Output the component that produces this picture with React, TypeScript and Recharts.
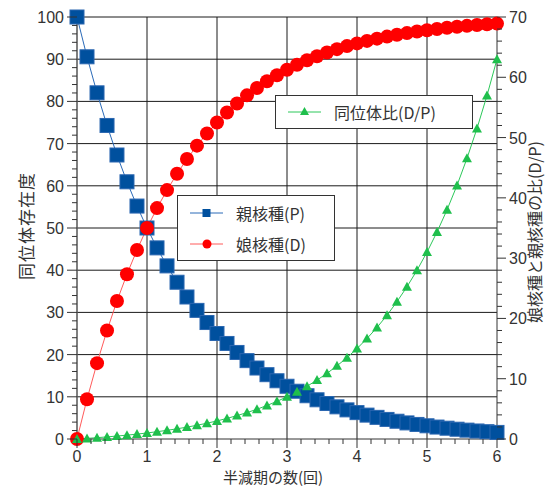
import { LineChart, Line, XAxis, YAxis, CartesianGrid } from "recharts";

// half-lives elapsed (steps of 1/7)
const halfLives = [
  0, 0.143, 0.286, 0.429, 0.571, 0.714, 0.857, 1, 1.143, 1.286, 1.429, 1.571, 1.714, 1.857,
  2, 2.143, 2.286, 2.429, 2.571, 2.714, 2.857, 3, 3.143, 3.286, 3.429, 3.571, 3.714, 3.857,
  4, 4.143, 4.286, 4.429, 4.571, 4.714, 4.857, 5, 5.143, 5.286, 5.429, 5.571, 5.714, 5.857, 6,
];

// parent nuclide abundance (%)
const parent = [
  100, 90.57, 82.03, 74.3, 67.3, 60.95, 55.2, 50, 45.29, 41.02, 37.15, 33.65, 30.48, 27.6,
  25, 22.64, 20.51, 18.57, 16.82, 15.24, 13.8, 12.5, 11.32, 10.25, 9.29, 8.41, 7.62, 6.9,
  6.25, 5.66, 5.13, 4.64, 4.21, 3.81, 3.45, 3.13, 2.83, 2.56, 2.32, 2.1, 1.9, 1.73, 1.56,
];

// daughter nuclide abundance (%)
const daughter = [
  0, 9.43, 17.97, 25.7, 32.7, 39.05, 44.8, 50, 54.71, 58.98, 62.85, 66.35, 69.52, 72.4,
  75, 77.36, 79.49, 81.43, 83.18, 84.76, 86.2, 87.5, 88.68, 89.75, 90.71, 91.59, 92.38, 93.1,
  93.75, 94.34, 94.87, 95.36, 95.79, 96.19, 96.55, 96.87, 97.17, 97.44, 97.68, 97.9, 98.1, 98.27, 98.44,
];

// daughter / parent ratio
const ratio = [
  0, 0.1, 0.22, 0.35, 0.49, 0.64, 0.81, 1, 1.21, 1.44, 1.69, 1.97, 2.28, 2.62,
  3, 3.42, 3.88, 4.38, 4.94, 5.56, 6.25, 7, 7.83, 8.75, 9.77, 10.89, 12.13, 13.49,
  15, 16.67, 18.5, 20.53, 22.78, 25.25, 27.98, 31, 34.33, 38.01, 42.07, 46.55, 51.5, 56.97, 63,
];

const xTicks = [
  0, 0.2, 0.4, 0.6, 0.8, 1, 1.2, 1.4, 1.6, 1.8, 2, 2.2, 2.4, 2.6, 2.8, 3, 3.2, 3.4, 3.6, 3.8,
  4, 4.2, 4.4, 4.6, 4.8, 5, 5.2, 5.4, 5.6, 5.8, 6,
];
const xGrid = [1, 2, 3, 4, 5];
const leftTicks = [
  0, 2, 4, 6, 8, 10, 12, 14, 16, 18, 20, 22, 24, 26, 28, 30, 32, 34, 36, 38, 40, 42, 44, 46, 48,
  50, 52, 54, 56, 58, 60, 62, 64, 66, 68, 70, 72, 74, 76, 78, 80, 82, 84, 86, 88, 90, 92, 94, 96, 98, 100,
];
const leftGrid = [10, 20, 30, 40, 50, 60, 70, 80, 90, 100];
const rightTicks = [
  0, 2, 4, 6, 8, 10, 12, 14, 16, 18, 20, 22, 24, 26, 28, 30, 32, 34, 36, 38, 40, 42, 44, 46, 48,
  50, 52, 54, 56, 58, 60, 62, 64, 66, 68, 70,
];

const data = halfLives.map((x, i) => ({ x, p: parent[i], d: daughter[i], r: ratio[i] }));

const BLUE = "#00509e";
const RED = "#ff0000";
const GREEN = "#1fbf4c";
const AXIS = "#333";
const NUM_FONT = "'Liberation Sans', Arial, sans-serif";
const JP_FONT = "'Noto Sans CJK JP', sans-serif";

const isMajor = (v: number) => v % 10 === 0;

function XTick(props: any) {
  const { x, y, payload } = props;
  const major = Number.isInteger(payload.value);
  return (
    <g>
      <line x1={x} x2={x} y1={y} y2={y + (major ? 9 : 5)} stroke={AXIS} />
      {major && (
        <text x={x} y={y + 23} textAnchor="middle" fontSize={16} fontFamily={NUM_FONT} fill="#333">
          {payload.value}
        </text>
      )}
    </g>
  );
}

function LeftTick(props: any) {
  const { x, y, payload } = props;
  const major = isMajor(payload.value);
  return (
    <g>
      <line x1={x - (major ? 10 : 5)} x2={x} y1={y} y2={y} stroke={AXIS} />
      {major && (
        <text x={x - 13} y={y + 6} textAnchor="end" fontSize={16} fontFamily={NUM_FONT} fill="#333">
          {payload.value}
        </text>
      )}
    </g>
  );
}

function RightTick(props: any) {
  const { x, y, payload } = props;
  const major = isMajor(payload.value);
  return (
    <g>
      <line x1={x} x2={x + (major ? 9 : 5)} y1={y} y2={y} stroke={AXIS} />
      {major && (
        <text x={x + 12} y={y + 6} textAnchor="start" fontSize={16} fontFamily={NUM_FONT} fill="#333">
          {payload.value}
        </text>
      )}
    </g>
  );
}

function SquareDot(props: any) {
  const { cx, cy, index } = props;
  return <rect key={`s${index}`} x={cx - 7} y={cy - 7} width={14} height={14} fill={BLUE} stroke="#2a66b0" strokeWidth={1} />;
}

function TriDot(props: any) {
  const { cx, cy, index } = props;
  return (
    <path
      key={`t${index}`}
      d={`M${cx},${cy - 5} L${cx + 5},${cy + 4} L${cx - 5},${cy + 4} Z`}
      fill={GREEN}
    />
  );
}

const legendBox: React.CSSProperties = {
  position: "absolute",
  background: "#fff",
  border: "1px solid #333",
  boxSizing: "border-box",
  fontFamily: JP_FONT,
  fontSize: 16,
  color: "#333",
};

function LegendRow({ top, marker, color, label }: { top: number; marker: string; color: string; label: string }) {
  return (
    <div style={{ position: "absolute", left: 0, top, height: 24, display: "flex", alignItems: "center" }}>
      <svg width={56} height={24}>
        <line x1={12} x2={45} y1={12} y2={12} stroke={color} />
        {marker === "square" && <rect x={24.5} y={8} width={8} height={8} fill={BLUE} />}
        {marker === "circle" && <circle cx={29} cy={12} r={4.5} fill={RED} />}
        {marker === "tri" && <path d="M28.5,7 L33,15 L24,15 Z" fill={GREEN} />}
      </svg>
      <span style={{ marginLeft: 2, whiteSpace: "nowrap" }}>{label}</span>
    </div>
  );
}

export default function App() {
  return (
    <div style={{ position: "absolute", left: 0, top: 0, width: 546, height: 488, background: "#fff" }}>
      <LineChart width={546} height={488} data={data} margin={{ top: 17, right: 0, bottom: 0, left: 0 }}>
        <CartesianGrid
          xAxisId="x"
          yAxisId="left"
          horizontalValues={leftGrid}
          verticalValues={xGrid}
          stroke="#1a1a1a"
          fill="none"
        />
        <XAxis
          xAxisId="x"
          dataKey="x"
          type="number"
          domain={[0, 6]}
          ticks={xTicks}
          interval={0}
          height={49}
          tickSize={0}
          tickMargin={0}
          tickLine={false}
          tick={<XTick />}
          axisLine={{ stroke: AXIS }}
        />
        <YAxis
          yAxisId="left"
          orientation="left"
          type="number"
          domain={[0, 100]}
          ticks={leftTicks}
          interval={0}
          width={77}
          tickSize={0}
          tickMargin={0}
          tickLine={false}
          tick={<LeftTick />}
          axisLine={{ stroke: "#555", strokeWidth: 1.5 }}
        />
        <YAxis
          yAxisId="right"
          orientation="right"
          type="number"
          domain={[0, 70]}
          ticks={rightTicks}
          interval={0}
          width={49}
          tickSize={0}
          tickMargin={0}
          tickLine={false}
          tick={<RightTick />}
          axisLine={{ stroke: AXIS }}
        />
        <Line
          xAxisId="x"
          yAxisId="left"
          dataKey="p"
          stroke="#2a6ab8"
          strokeWidth={1}
          dot={<SquareDot />}
          isAnimationActive={false}
        />
        <Line
          xAxisId="x"
          yAxisId="left"
          dataKey="d"
          stroke="#ff5a5a"
          strokeWidth={1}
          dot={{ r: 7, fill: RED, stroke: "none" }}
          isAnimationActive={false}
        />
        <Line
          xAxisId="x"
          yAxisId="right"
          dataKey="r"
          stroke="#2cc85a"
          strokeWidth={1}
          dot={<TriDot />}
          isAnimationActive={false}
        />
      </LineChart>

      <div style={{ ...legendBox, left: 177, top: 195, width: 158, height: 66 }}>
        <LegendRow top={5} marker="square" color="#2a6ab8" label="親核種(P)" />
        <LegendRow top={36} marker="circle" color="#ff5a5a" label="娘核種(D)" />
      </div>
      <div style={{ ...legendBox, left: 275, top: 95, width: 198, height: 34 }}>
        <LegendRow top={4} marker="tri" color="#2cc85a" label="同位体比(D/P)" />
      </div>

      <div
        style={{
          position: "absolute",
          left: 273,
          top: 476,
          transform: "translate(-50%, -50%)",
          fontFamily: JP_FONT,
          fontSize: 15,
          lineHeight: "17px",
          color: "#333",
          whiteSpace: "nowrap",
        }}
      >
        半減期の数(回)
      </div>
      <div
        style={{
          position: "absolute",
          left: 25,
          top: 226,
          transform: "translate(-50%, -50%) rotate(-90deg)",
          fontFamily: JP_FONT,
          fontSize: 17,
          letterSpacing: 1,
          color: "#333",
          whiteSpace: "nowrap",
        }}
      >
        同位体存在度
      </div>
      <div
        style={{
          position: "absolute",
          left: 534,
          top: 232,
          transform: "translate(-50%, -50%) rotate(-90deg)",
          fontFamily: JP_FONT,
          fontSize: 16,
          lineHeight: "18px",
          color: "#333",
          whiteSpace: "nowrap",
        }}
      >
        娘核種と親核種の比(D/P)
      </div>
    </div>
  );
}
